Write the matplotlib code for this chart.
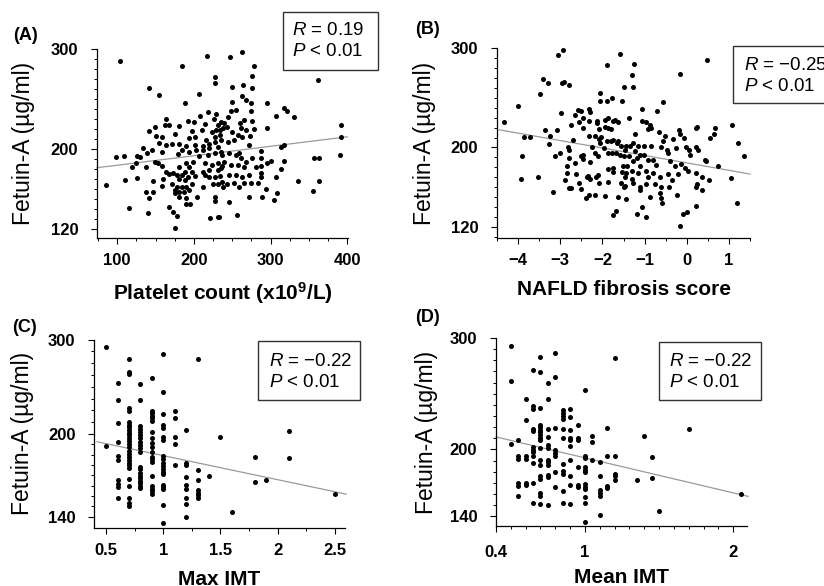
import numpy as np
import matplotlib
matplotlib.use('Agg')
import matplotlib.pyplot as plt
from matplotlib.ticker import MultipleLocator, FixedLocator, FuncFormatter, NullFormatter
from matplotlib.patches import Rectangle

plt.rcParams['font.family'] = ['Liberation Sans', 'DejaVu Sans']
plt.rcParams['font.weight'] = 'bold'
plt.rcParams['mathtext.fontset'] = 'custom'
plt.rcParams['mathtext.it'] = 'Liberation Sans:style=italic:weight=normal'
plt.rcParams['mathtext.rm'] = 'Liberation Sans:weight=normal'
plt.rcParams['mathtext.bf'] = 'Liberation Sans:weight=bold'

# (A) platelet count vs fetuin-A
platelet_pts = [
    (104,288),(217,293),(184,283),(142,261),(154,254),(228,272),(228,266),(207,255),(189,246),(218,237),
    (229,235),(208,233),(163,230),(168,224),(162,224),(149,222),(142,218),(181,223),(192,228),(200,227),
    (214,225),(226,230),(231,224),(236,227),(238,221),(229,219),(223,217),(210,219),(198,218),(176,215),
    (151,213),(158,212),(155,206),(163,204),(172,205),(181,205),(194,211),(202,212),(216,209),(228,212),
    (234,214),(227,207),(220,205),(212,203),(201,204),(190,203),(184,199),(194,197),(203,199),(212,199),
    (220,201),(231,202),(236,197),(227,196),(218,194),(207,193),(134,201),(145,199),(139,196),(158,197),
    (179,195),(99,192),(109,193),(126,193),(130,192),(149,187),(153,186),(159,183),(137,182),(119,182),
    (125,186),(190,186),(199,187),(194,182),(181,182),(214,186),(223,184),(231,186),(237,183),(231,179),
    (220,179),(212,177),(197,177),(188,177),(164,177),(168,175),(173,176),(178,174),(185,174),(192,172),
    (201,173),(215,174),(220,172),(160,170),(181,170),(189,169),(227,172),(234,173),(110,169),(126,171),
    (147,168),(158,163),(172,165),(178,162),(184,162),(190,162),(198,165),(212,162),(225,165),(231,165),
    (238,162),(85,164),(175,159),(181,157),(187,157),(194,159),(137,157),(147,157),(176,156),(181,152),
    (190,151),(204,152),(228,152),(142,151),(228,148),(190,145),(195,145),(116,141),(168,142),(173,137),
    (140,136),(178,133),(221,131),(232,132),(176,121),
    (247,292),(263,297),(278,283),(276,273),(250,262),(264,264),(276,261),(362,269),(263,253),(268,249),
    (250,247),(274,246),(295,246),(255,239),(248,238),(274,238),(244,232),(265,229),(276,228),(260,226),
    (317,241),(322,238),(307,233),(331,232),(239,226),(234,219),(243,222),(250,217),(261,221),(268,219),
    (278,220),(295,221),(257,214),(263,212),(273,213),(236,209),(244,207),(252,209),(272,204),(287,198),
    (313,202),(317,204),(392,224),(392,212),(391,194),(357,191),(363,191),(237,194),(246,196),(255,194),
    (261,191),(259,196),(268,187),(276,191),(287,191),(239,187),(248,184),(257,184),(266,182),(281,182),
    (287,183),(295,186),(300,188),(317,188),(313,180),(235,181),(246,174),(255,174),(263,172),(272,174),
    (287,176),(287,172),(307,172),(237,167),(243,165),(252,166),(259,162),(265,166),(274,166),(284,166),
    (294,160),(336,168),(363,168),(356,158),(308,156),(305,149),(289,152),(272,152),(246,147),(233,132),
    (256,134),
]

# (B) NAFLD fibrosis score vs fetuin-A
nfs_pts = [
    (-4.34,225.3),(-4.01,242.1),(-3.42,269),(-3.29,264.4),(-3.47,254),(-3.06,293),(-2.94,298),(-2.96,264.4),
    (-2.92,266),(-2.79,262.3),(-2.98,234.7),(-2.59,238),(-2.51,237),(-2.31,238.8),(-2.29,235.4),(-2.65,233),
    (-2.45,229.7),(-2.33,226.3),(-2.55,225.6),(-2.74,222.6),(-2.45,219.6),(-3.36,217.6),(-3.07,217.6),
    (-3.24,211.2),(-3.85,210.5),(-3.71,210.5),(-3.26,203.8),(-3.91,191),(-3.94,168),(-3.52,170.8),
    (-3.18,155.6),(-3.12,191),(-3.00,194.3),(-2.69,207.8),(-2.82,200.4),(-2.79,197.7),(-2.80,189.3),
    (-2.84,181.5),(-2.88,167.4),(-2.84,174.8),(-2.79,159),(-2.74,159),(-2.65,184.2),(-2.63,173.4),
    (-2.55,164.7),(-2.50,191),(-2.45,192.6),(-2.47,188.3),(-2.33,211.2),(-2.25,200.4),(-2.35,171.4),
    (-2.29,168),(-2.50,158),(-2.29,184.9),(-2.17,194.3),(-2.11,191),(-2.13,226.3),(-2.12,224.6),
    (-2.09,218.6),(-2.17,211.2),(-2.09,208.5),(-2.03,210.5),(-1.94,228),(-1.87,229.7),(-1.94,220.6),
    (-1.86,219.6),(-1.79,218.6),(-1.76,226.3),(-1.70,227.3),(-1.64,225.3),(-1.90,206.1),(-1.79,206.1),
    (-1.74,207.8),(-1.62,206.1),(-1.56,201),(-1.66,204.4),(-1.97,199.4),(-1.86,194.3),(-1.78,194.3),
    (-1.68,194.3),(-1.58,192.6),(-1.50,191),(-1.74,179.2),(-2.11,172.4),(-2.09,164.7),(-2.16,170.8),
    (-2.37,170.1),(-1.86,178.2),(-1.87,165.7),(-1.76,175.8),(-1.54,175.8),(-1.56,164.7),(-1.50,160.7),
    (-1.46,170.8),(-1.52,180.9),(-1.94,151.2),(-1.76,132),(-1.68,136.4),(-1.62,150.6),(-2.05,204.4),
    (-1.90,246.5),(-2.05,246.5),(-2.05,255),(-1.78,249.9),(-1.90,282.9),(-1.59,293.7),(-1.50,261),
    (-1.53,246.8),(-2.17,152.2),(-2.33,152.2),(-2.39,148.9),
    (-1.26,283.5),(-1.30,272.4),(-1.27,260.7),(0.48,288),(-0.15,273.4),(-0.56,245.8),(-1.05,239.1),
    (-0.70,236.4),(-1.37,229.7),(-1.07,227),(-0.96,225.3),(-0.88,223),(-0.84,219.6),(-0.92,218.6),
    (-1.23,213.9),(-0.66,215.2),(-0.52,211.2),(-0.56,206.1),(-0.18,217.9),(-0.15,213.9),(-0.32,208.5),
    (-0.07,209.5),(0.21,219.6),(0.24,220.6),(0.68,219.6),(0.64,213.9),(0.56,209.5),(1.08,222.3),
    (1.22,204.4),(1.35,191.6),(-1.27,204.4),(-1.43,201.7),(-1.35,201.7),(-1.15,201),(-1.02,201.7),
    (-0.86,201.7),(-0.62,200.4),(-0.48,197.7),(-0.44,194.3),(-0.25,199.4),(-0.01,200.4),(0.06,197.7),
    (0.07,192.6),(0.21,200.4),(0.27,197.7),(-1.47,197.7),(-1.23,196),(-1.11,192.6),(-1.37,191),
    (-1.19,189.3),(-1.02,192.6),(-1.27,185.9),(-1.41,181.5),(-1.11,181.5),(-0.92,186.9),(-0.80,186.9),
    (-0.72,182.5),(-0.40,185.9),(-0.28,181.5),(-0.13,183.6),(-0.05,179.2),(0.03,176.8),(0.43,187.6),
    (0.45,185.9),(0.74,181.5),(-1.43,174.1),(-1.31,176.8),(-1.31,168),(-1.15,174.1),(-0.97,176.8),
    (-0.92,170.8),(-0.80,174.8),(-0.64,170.8),(-0.44,173.4),(-0.36,167.4),(-0.20,173.4),(0.21,174.1),
    (0.37,170.1),(0.53,167.4),(1.06,169.1),(-1.47,161.3),(-1.27,164),(-1.11,160.7),(-1.10,157.3),
    (-0.96,163.3),(-0.76,163.3),(-0.60,160.7),(-0.42,160.7),(0.21,160.7),(0.24,163.3),(0.37,157.3),
    (-1.43,147.9),(-0.88,150.6),(-0.64,153.9),(-0.62,148.9),(-0.58,144.5),(-0.23,151.9),(0.21,141.1),
    (1.19,143.8),(-1.19,133),(-1.05,139.8),(-0.97,130.4),(-0.10,133),(0.01,135),(-0.17,120.9),
]

# (C) max IMT vs fetuin-A
max_imt_pts = [
    (0.5,291),(0.5,190),
    (0.6,248.6),(0.6,231.4),(0.6,210),(0.6,193),(0.6,182),(0.6,178.5),(0.6,164),(0.6,161.4),(0.6,159),(0.6,152),
    (0.7,275.7),(0.7,260.7),(0.7,258.8),(0.7,223.5),(0.7,221),(0.7,210.6),(0.7,208),(0.7,206),(0.7,203.4),
    (0.7,201),(0.7,198.8),(0.7,196.5),(0.7,194.3),(0.7,191.6),(0.7,188.8),(0.7,186.1),(0.7,183.5),(0.7,181.4),
    (0.7,178.8),(0.7,176.8),(0.7,174.8),(0.7,172.8),(0.7,164.8),(0.7,160),(0.7,151.6),(0.7,148.8),(0.7,146.7),
    (0.8,247.6),(0.8,231.4),(0.8,206.5),(0.8,204.3),(0.8,202),(0.8,199),(0.8,196.3),(0.8,193.5),(0.8,190.8),
    (0.8,188),(0.8,185.3),(0.8,173.8),(0.8,171.8),(0.8,168.9),(0.8,167.2),(0.8,165.3),(0.8,163.5),(0.8,161.8),
    (0.8,160),(0.8,158.4),
    (0.9,254),(0.9,221),(0.9,218.5),(0.9,216),(0.9,213.8),(0.9,211.7),(0.9,202),(0.9,196.3),(0.9,192.1),
    (0.9,188.8),(0.9,185.3),(0.9,181.4),(0.9,179.3),(0.9,177.3),(0.9,166.5),(0.9,160),(0.9,157.7),(0.9,156.1),
    (0.9,154.5),
    (1.0,282),(1.0,239.5),(1.0,217.9),(1.0,207.5),(1.0,205),(1.0,197),(1.0,194.9),(1.0,181.9),(1.0,179.3),
    (1.0,176.8),(1.0,174.3),(1.0,171.8),(1.0,170.1),(1.0,168.4),(1.0,160.5),(1.0,159),(1.0,157.7),(1.0,147),
    (1.0,136.5),
    (1.1,221),(1.1,213.8),(1.1,197.6),(1.1,191.3),(1.1,175),
    (1.2,203.8),(1.2,176.8),(1.2,175),(1.2,165.8),(1.2,160.5),(1.2,157.7),(1.2,151.6),(1.2,147.6),(1.2,140.1),
    (1.3,275.7),(1.3,171.3),(1.3,163.7),(1.3,156.8),(1.3,155),(1.3,153.5),(1.3,152),
    (1.4,167.2),(1.5,197.6),(1.6,142.7),(1.8,181.4),(1.8,162.7),(1.9,164),(2.1,202.8),(2.1,180.6),(2.5,154.2),
]

# (D) mean IMT vs fetuin-A
mean_imt_pts = [
    (0.5,292.8),(0.5,261.3),(0.5,205.1),
    (0.55,208.1),(0.55,194.3),(0.55,191.6),(0.55,170.3),(0.55,167.3),(0.55,158.2),
    (0.6,245.6),(0.6,226.1),(0.6,194.3),(0.6,191.3),(0.6,170.3),(0.6,168.2),
    (0.65,271.2),(0.65,239.3),(0.65,236.3),(0.65,218.3),(0.65,216.2),(0.65,202.1),(0.65,199.7),(0.65,197.3),
    (0.65,194.3),(0.65,187.7),(0.65,169.7),(0.65,152.2),
    (0.7,282.6),(0.7,269.4),(0.7,236.9),(0.7,222.2),(0.7,220.1),(0.7,217.7),(0.7,215.3),(0.7,212.9),
    (0.7,210.5),(0.7,208.7),(0.7,201.2),(0.7,190.7),(0.7,186.2),(0.7,175.7),(0.7,173.3),(0.7,160.7),
    (0.7,158.2),(0.7,151),
    (0.75,259.8),(0.75,245.3),(0.75,218.3),(0.75,211.1),(0.75,204.2),(0.75,201.2),(0.75,190.7),(0.75,188.6),
    (0.75,186.2),(0.75,177.2),(0.75,175.1),(0.75,150.1),
    (0.8,286.8),(0.8,265.2),(0.8,219.2),(0.8,199.1),(0.8,196.7),(0.8,194.3),(0.8,179.3),(0.8,166.7),
    (0.85,235.1),(0.85,232.7),(0.85,230.3),(0.85,227.3),(0.85,218.3),(0.85,210.2),(0.85,187.1),(0.85,180.2),
    (0.85,178.1),(0.85,163.1),(0.85,151.7),
    (0.9,236.3),(0.9,229.1),(0.9,217.7),(0.9,210.2),(0.9,208.1),(0.9,203.3),(0.9,190.1),(0.9,175.7),
    (0.9,168.2),(0.9,151),
    (0.95,222.2),(0.95,210.2),(0.95,208.7),(0.95,184.1),(0.95,168.2),(0.95,166.1),
    (1.0,253.1),(1.0,193.7),(1.0,192.2),(1.0,184.1),(1.0,181.7),(1.0,179.3),(1.0,169.1),(1.0,166.7),
    (1.0,164.3),(1.0,157.1),(1.0,151.7),(1.0,135.1),
    (1.05,212.3),(1.05,206.3),(1.05,190.7),
    (1.1,188.3),(1.1,175.7),(1.1,163.7),(1.1,161.3),(1.1,158.2),(1.1,140.8),
    (1.15,218.9),(1.15,194.3),(1.15,167.3),(1.15,165.2),
    (1.2,282.3),(1.2,194.3),(1.2,177.8),(1.2,175.7),(1.2,172.7),
    (1.35,172.1),(1.4,212.3),(1.45,193.1),(1.45,173.9),(1.5,144.4),(1.7,218.3),(2.05,160.1),
]

# regression lines: (intercept, slope, x start, x end)
fit_a = (174.1, 0.0948, 73.6, 400)
fit_b = (184.5, -7.48, -4.45, 1.5)
fit_c = (200.9, -17.9, 0.42, 2.6)
fit_d = (223.8, -31.4, 0.40, 2.1)

stats = {'A': ('0.19', '0.01'), 'B': ('\u22120.25', '0.01'),
         'C': ('\u22120.22', '0.01'), 'D': ('\u22120.22', '0.01')}

W, H = 824, 586
fig = plt.figure(figsize=(W / 100, H / 100), dpi=100)

def fx(px):
    return px / W

def fy(py):
    return 1 - py / H

axA = fig.add_axes([0.1177, 0.5939, 0.3046, 0.3225])
axB = fig.add_axes([0.6032, 0.5939, 0.3070, 0.3242])
axC = fig.add_axes([0.1144, 0.0990, 0.3042, 0.3213])
axD = fig.add_axes([0.6019, 0.1019, 0.3042, 0.3213])

fmt_g = FuncFormatter(lambda v, p: f'{v:g}')

def draw(ax, pts, fit, xlim, ylim, xlabel, ylab_x, xpad, xlabpad):
    x, y = np.array(pts).T
    ax.scatter(x, y, s=13, color='black', linewidths=0, zorder=3, clip_on=False)
    b0, b1, x0, x1 = fit
    xs = np.array([x0, x1])
    ax.plot(xs, b0 + b1 * xs, color='#9a9a9a', lw=0.9, zorder=2, clip_on=False)
    ax.set_xlim(*xlim)
    ax.set_ylim(*ylim)
    for s in ['top', 'right']:
        ax.spines[s].set_visible(False)
    for s in ['left', 'bottom']:
        ax.spines[s].set_linewidth(0.9)
    ax.tick_params(which='major', length=4.5, width=0.8, labelsize=12)
    ax.tick_params(axis='y', which='major', pad=9)
    ax.tick_params(axis='x', which='major', pad=xpad)
    ax.tick_params(which='minor', length=2.2, width=0.7)
    ax.set_xlabel(xlabel, fontsize=15, fontweight='bold', labelpad=xlabpad)
    ax.set_ylabel('Fetuin-A (\u00b5g/ml)', fontsize=16.5, fontweight='normal')
    ax.yaxis.set_label_coords(ylab_x, 0.5)

draw(axA, platelet_pts, fit_a, (73.6, 401), (110.7, 300),
     'Platelet count (x10$^{\\mathbf{9}}$/L)', -0.247, 6, 9)
axA.xaxis.set_major_locator(FixedLocator([100, 200, 300, 400]))
axA.xaxis.set_minor_locator(MultipleLocator(25))
axA.yaxis.set_major_locator(FixedLocator([120, 200, 300]))
axA.yaxis.set_minor_locator(MultipleLocator(10))

draw(axB, nfs_pts, fit_b, (-4.5, 1.5), (109, 300),
     'NAFLD fibrosis score', -0.243, 6, 9)
axB.xaxis.set_major_locator(FixedLocator([-4, -3, -2, -1, 0, 1]))
axB.xaxis.set_minor_locator(MultipleLocator(0.5))
axB.yaxis.set_major_locator(FixedLocator([120, 200, 300]))
axB.yaxis.set_minor_locator(MultipleLocator(10))

axC.set_yscale('log')
draw(axC, max_imt_pts, fit_c, (0.396, 2.59), (133.4, 300),
     'Max IMT', -0.239, 6, 9)
axC.xaxis.set_major_locator(FixedLocator([0.5, 1, 1.5, 2, 2.5]))
axC.xaxis.set_major_formatter(fmt_g)
axC.xaxis.set_minor_locator(MultipleLocator(0.25))
axC.yaxis.set_major_locator(FixedLocator([140, 200, 300]))
axC.yaxis.set_major_formatter(fmt_g)
axC.yaxis.set_minor_locator(FixedLocator(np.concatenate([np.geomspace(140, 200, 9), np.geomspace(200, 300, 9)])))
axC.yaxis.set_minor_formatter(NullFormatter())

draw(axD, mean_imt_pts, fit_d, (0.4, 2.09), (131, 300),
     'Mean IMT', -0.231, 9, 6)
axD.xaxis.set_major_locator(FixedLocator([0.4, 1, 2]))
axD.xaxis.set_major_formatter(fmt_g)
axD.xaxis.set_minor_locator(MultipleLocator(0.1))
axD.yaxis.set_major_locator(FixedLocator([140, 200, 300]))
axD.yaxis.set_major_formatter(fmt_g)
axD.yaxis.set_minor_locator(MultipleLocator(10))

# panel letters
for key, px, py in [('A', 13, 35), ('B', 415, 30), ('C', 12, 328), ('D', 415, 318)]:
    fig.text(fx(px), fy(py), f'({key})', fontsize=13, fontweight='bold', ha='left', va='center')

# R / P boxes: (panel, left, top, width, height, text left, R line y, P line y)
boxes = [('A', 282.7, 11.7, 95.6, 58.3, 292.5, 30.5, 52.0),
         ('B', 732.7, 45.7, 110.0, 57.6, 743.7, 66.0, 86.7),
         ('C', 257.7, 341.3, 102.3, 59.0, 269.3, 361.3, 382.3),
         ('D', 658.7, 342.0, 102.6, 58.3, 669.3, 361.3, 382.3)]
for key, bx, by, bw, bh, tx, ry, py in boxes:
    fig.add_artist(Rectangle((fx(bx), fy(by + bh)), bw / W, bh / H, transform=fig.transFigure,
                             facecolor='white', edgecolor='#333333', lw=1.0, zorder=5))
    r, p = stats[key]
    fig.text(fx(tx), fy(ry), f'$\\mathit{{R}}$ = {r}', fontsize=13.5, fontweight='normal',
             ha='left', va='center', zorder=6)
    fig.text(fx(tx), fy(py), f'$\\mathit{{P}}$ < {p}', fontsize=13.5, fontweight='normal',
             ha='left', va='center', zorder=6)

fig.savefig('out.png', dpi=100, facecolor='white')
